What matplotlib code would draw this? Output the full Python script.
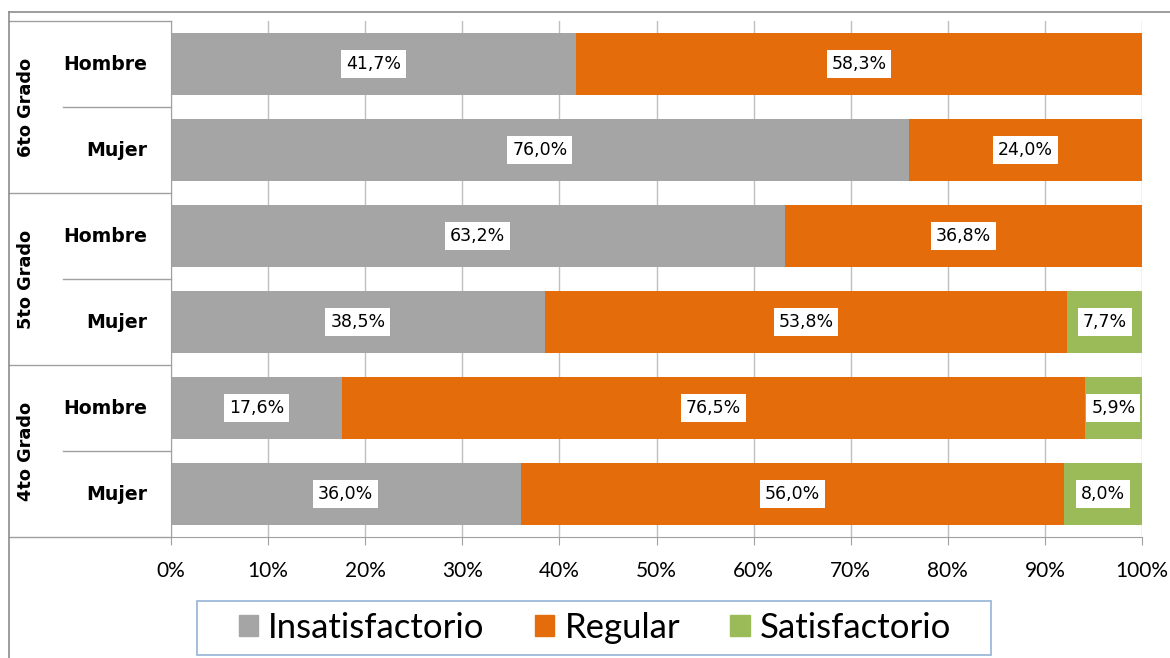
import matplotlib
matplotlib.use('Agg')
import matplotlib.pyplot as plt
from matplotlib.lines import Line2D
from matplotlib.patches import Patch, Rectangle

# rows from bottom to top
grados = ['4to Grado', '5to Grado', '6to Grado']
sexos = ['Mujer', 'Hombre']
insatisfactorio = [36.0, 17.6, 38.5, 63.2, 76.0, 41.7]
regular = [56.0, 76.5, 53.8, 36.8, 24.0, 58.3]
satisfactorio = [8.0, 5.9, 7.7, 0.0, 0.0, 0.0]
series_names = ['Insatisfactorio', 'Regular', 'Satisfactorio']
colors = ['#A5A5A5', '#E46C0A', '#9BBB59']
xticks = list(range(0, 101, 10))

W, H = 1170, 658
def fx(px):
    return px / W
def fy(py):
    return 1 - py / H

fig = plt.figure(figsize=(11.7, 6.58), dpi=100)
ax = fig.add_axes([fx(171), fy(537), fx(1142) - fx(171), fy(21) - fy(537)])

ypos = list(range(len(insatisfactorio)))
left = [0.0] * len(ypos)
for vals, name, c in zip([insatisfactorio, regular, satisfactorio], series_names, colors):
    bars = ax.barh(ypos, vals, left=left, height=0.71, color=c, label=name, zorder=2)
    for b, v in zip(bars, vals):
        if v > 0:
            ax.text(b.get_x() + b.get_width() / 2, b.get_y() + b.get_height() / 2,
                    f'{v:.1f}%'.replace('.', ','), ha='center', va='center',
                    fontsize=12.5, family='DejaVu Sans', color='black', zorder=4,
                    bbox=dict(boxstyle='square,pad=0.28', fc='white', ec='none'))
    left = [l + v for l, v in zip(left, vals)]

ax.set_xlim(0, 100)
ax.set_ylim(-0.5, 5.5)
ax.set_xticks(xticks)
ax.set_xticklabels([f'{t}%' for t in xticks], family='Lato', fontsize=15)
ax.set_yticks([])
ax.grid(axis='x', color='#BFBFBF', lw=1, zorder=0)
ax.set_axisbelow(True)
ax.tick_params(axis='x', length=6, color='#A0A0A0', pad=11)
for s in ['top', 'right']:
    ax.spines[s].set_visible(False)
for s in ['left', 'bottom']:
    ax.spines[s].set_color('#A0A0A0')

# category labels on the left
ytr = ax.get_yaxis_transform()
for i in ypos:
    ax.text((147 - 171) / 971, i, sexos[i % 2], transform=ytr, ha='right', va='center',
            fontsize=13.6, fontweight='bold', family='DejaVu Sans', clip_on=False)
for g, name in enumerate(grados):
    ax.text((26 - 171) / 971, 2 * g + 0.5, name, transform=ytr, ha='center', va='center',
            rotation=90, fontsize=12.8, fontweight='bold', family='DejaVu Sans', clip_on=False)

line_c = '#A0A0A0'
for py in [21, 193, 365, 537]:
    fig.add_artist(Line2D([fx(9), fx(171)], [fy(py)] * 2, color=line_c, lw=1))
for py in [107, 279, 451]:
    fig.add_artist(Line2D([fx(63), fx(171)], [fy(py)] * 2, color=line_c, lw=1))
# outer chart border
fig.add_artist(Line2D([fx(9), 1], [fy(12)] * 2, color='#8C8C8C', lw=1.2))
fig.add_artist(Line2D([fx(9), fx(9)], [fy(12), 0], color='#8C8C8C', lw=1.2))

# legend
fig.add_artist(Rectangle((fx(197), fy(655)), fx(991) - fx(197), fy(601) - fy(655),
                         transform=fig.transFigure, fc='white', ec='#95B3D7', lw=1.2))
handles = [Patch(color=c, label=n) for c, n in zip(colors, series_names)]
fig.legend(handles=handles, loc='center', bbox_to_anchor=(fx(595), fy(628)), ncol=3,
           frameon=False, prop={'family': 'Lato', 'size': 25},
           handlelength=0.55, handleheight=0.55, handletextpad=0.3, columnspacing=1.45)

plt.savefig('out.png', dpi=100)
